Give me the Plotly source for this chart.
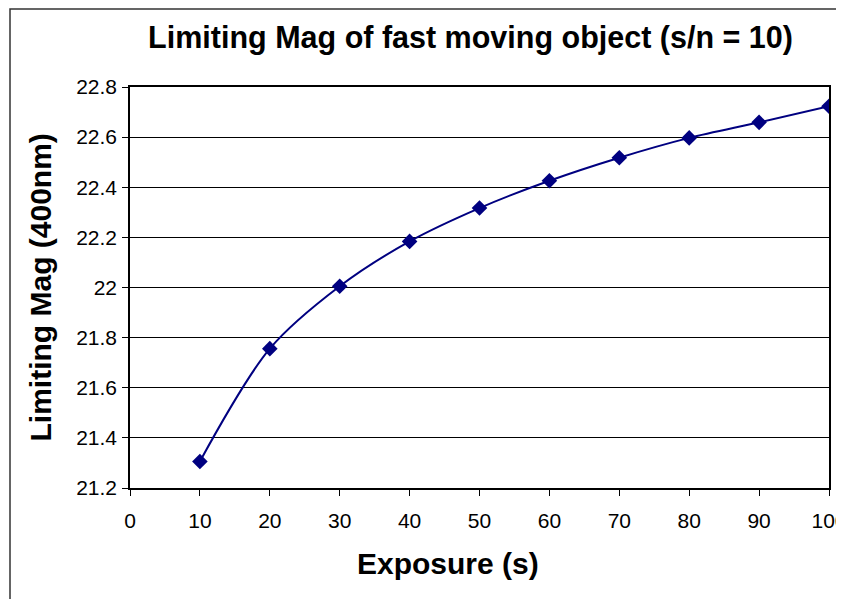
import plotly.graph_objects as go

exposure = [10, 20, 30, 40, 50, 60, 70, 80, 90, 100]
limiting_mag = [21.306, 21.756, 22.005, 22.184, 22.317, 22.426, 22.518, 22.597, 22.659, 22.723]

title_text = "Limiting Mag of fast moving object (s/n = 10)"
x_title = "Exposure (s)"
y_title = "Limiting Mag (400nm)"

FONT = "Arial, Liberation Sans, sans-serif"
NAVY = "#000080"

fig = go.Figure()
fig.add_trace(go.Scatter(
    x=exposure, y=limiting_mag, mode="lines+markers",
    line=dict(color=NAVY, width=2, shape="spline", smoothing=0.9),
    marker=dict(symbol="diamond", size=12, color=NAVY),
    showlegend=False,
))

# page body has an 8px default margin; compensate so the plot lands where the reference has it
OFF = 8
W, H = 844 - OFF, 599 - OFF
L, R, T, B = 130 - OFF, 15, 87 - OFF, 111
pw, ph = W - L - R, H - T - B

def px_x(p):  # p in viewport pixels
    return (p - OFF - L) / pw

def px_y(p):
    return (H - B - (p - OFF)) / ph

fig.update_layout(
    width=W, height=H,
    margin=dict(l=L, r=R, t=T, b=B, pad=0, autoexpand=False),
    paper_bgcolor="white", plot_bgcolor="white",
    font=dict(family=FONT, color="black", size=21),
    title=dict(text="<b>" + title_text + "</b>", x=px_x(470.5), xref="paper", xanchor="center",
               y=1 - (37 - OFF) / H, yanchor="middle", yref="container",
               font=dict(family=FONT, size=30.5, color="black")),
    xaxis=dict(range=[0, 100], dtick=10, tick0=0, showgrid=False,
               showline=True, linecolor="black", linewidth=1.5, mirror=True,
               ticks="outside", ticklen=6, tickcolor="black", tickwidth=1,
               tickfont=dict(size=21), zeroline=False, ticklabelstandoff=7,
               ticklabeloverflow="allow", automargin=False),
    yaxis=dict(range=[21.2, 22.8], dtick=0.2, tick0=21.2, showgrid=True,
               gridcolor="black", gridwidth=1,
               showline=True, linecolor="black", linewidth=1.5, mirror=True,
               ticks="outside", ticklen=6, tickcolor="black", tickwidth=1,
               tickfont=dict(size=21), zeroline=False, ticklabelstandoff=1,
               ticklabeloverflow="allow", automargin=False),
    annotations=[
        dict(text="<b>" + x_title + "</b>", xref="paper", yref="paper",
             x=px_x(447.5), y=px_y(563), xanchor="center", yanchor="middle",
             showarrow=False, font=dict(family=FONT, size=30, color="black")),
        dict(text="<b>" + y_title + "</b>", xref="paper", yref="paper",
             x=px_x(40), y=px_y(287.5), xanchor="center", yanchor="middle",
             textangle=-90, showarrow=False,
             font=dict(family=FONT, size=30, color="black")),
    ],
    shapes=[dict(type="rect", xref="paper", yref="paper",
                 x0=px_x(10), x1=px_x(870), y0=px_y(640), y1=px_y(OFF + 1),
                 line=dict(color="#333333", width=1.5), fillcolor="rgba(0,0,0,0)",
                 layer="below")],
)

fig.write_html("out.html")
